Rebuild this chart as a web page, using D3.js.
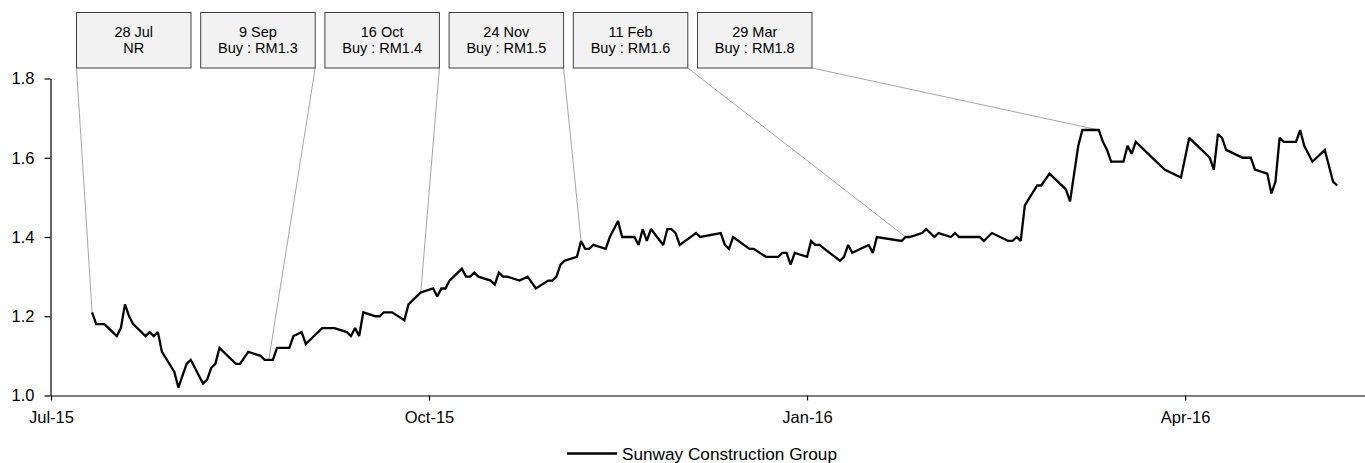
<!DOCTYPE html>
<html>
<head>
<meta charset="utf-8">
<script src="https://cdn.jsdelivr.net/npm/d3@7"></script>
<style>
  html, body { margin: 0; padding: 0; background: #fff; }
  svg { display: block; }
  text { font-family: "Liberation Sans", Arial, sans-serif; fill: #000; }
</style>
</head>
<body>
<svg id="chart" width="1365" height="463"></svg>
<script>
// ---- data ----
const dates = [
"2015-07-28","2015-07-29","2015-07-31","2015-08-03","2015-08-04","2015-08-05","2015-08-06","2015-08-07",
"2015-08-10","2015-08-11","2015-08-12","2015-08-13","2015-08-14","2015-08-17","2015-08-18","2015-08-20",
"2015-08-21","2015-08-24","2015-08-25","2015-08-26","2015-08-27","2015-08-28","2015-09-01","2015-09-02",
"2015-09-04","2015-09-07","2015-09-08","2015-09-09","2015-09-10","2015-09-11","2015-09-14","2015-09-15",
"2015-09-17","2015-09-18","2015-09-22","2015-09-25","2015-09-28","2015-09-29","2015-09-30","2015-10-01",
"2015-10-02","2015-10-05","2015-10-06","2015-10-07","2015-10-09","2015-10-12","2015-10-13","2015-10-15",
"2015-10-16","2015-10-19","2015-10-20","2015-10-21","2015-10-22","2015-10-23","2015-10-26","2015-10-27",
"2015-10-28","2015-10-29","2015-10-30","2015-11-02","2015-11-03","2015-11-04","2015-11-05","2015-11-06",
"2015-11-09","2015-11-11","2015-11-13","2015-11-16","2015-11-17","2015-11-18","2015-11-19","2015-11-20",
"2015-11-23","2015-11-24","2015-11-25","2015-11-26","2015-11-27","2015-11-30","2015-12-01","2015-12-03",
"2015-12-04","2015-12-07","2015-12-08","2015-12-09","2015-12-10","2015-12-11","2015-12-14","2015-12-15",
"2015-12-16","2015-12-17","2015-12-18","2015-12-22","2015-12-23","2015-12-28","2015-12-29","2015-12-30",
"2015-12-31","2016-01-04","2016-01-05","2016-01-08","2016-01-11","2016-01-12","2016-01-13","2016-01-14",
"2016-01-15","2016-01-18","2016-01-19","2016-01-20","2016-01-21","2016-01-26","2016-01-27","2016-01-28",
"2016-01-29","2016-02-02","2016-02-03","2016-02-04","2016-02-10","2016-02-11","2016-02-12","2016-02-15",
"2016-02-16","2016-02-18","2016-02-19","2016-02-22","2016-02-23","2016-02-24","2016-02-29","2016-03-01",
"2016-03-03","2016-03-07","2016-03-08","2016-03-09","2016-03-10","2016-03-11","2016-03-14","2016-03-15",
"2016-03-17","2016-03-21","2016-03-22","2016-03-24","2016-03-25","2016-03-28","2016-03-29","2016-03-30",
"2016-03-31","2016-04-01","2016-04-04","2016-04-05","2016-04-06","2016-04-07","2016-04-14","2016-04-18",
"2016-04-19","2016-04-20","2016-04-25","2016-04-26","2016-04-27","2016-04-28","2016-04-29","2016-05-03",
"2016-05-05","2016-05-06","2016-05-09","2016-05-10","2016-05-11","2016-05-12","2016-05-13","2016-05-16",
"2016-05-17","2016-05-18","2016-05-20","2016-05-23","2016-05-25","2016-05-26"
];
const prices = [
1.21,1.18,1.18,1.15,1.17,1.23,1.20,1.18,
1.15,1.16,1.15,1.16,1.11,1.06,1.02,1.08,
1.09,1.03,1.04,1.07,1.08,1.12,1.08,1.08,
1.11,1.10,1.09,1.09,1.09,1.12,1.12,1.15,
1.16,1.13,1.17,1.17,1.16,1.15,1.17,1.15,
1.21,1.20,1.20,1.21,1.21,1.19,1.23,1.25,
1.26,1.27,1.25,1.27,1.27,1.29,1.32,1.30,
1.30,1.31,1.30,1.29,1.28,1.31,1.30,1.30,
1.29,1.30,1.27,1.29,1.29,1.30,1.33,1.34,
1.35,1.39,1.37,1.37,1.38,1.37,1.40,1.44,
1.40,1.40,1.38,1.42,1.39,1.42,1.38,1.42,
1.42,1.41,1.38,1.41,1.40,1.41,1.38,1.37,
1.40,1.37,1.37,1.35,1.35,1.36,1.36,1.33,
1.36,1.35,1.39,1.38,1.38,1.34,1.35,1.38,
1.36,1.38,1.36,1.40,1.39,1.40,1.40,1.41,
1.42,1.40,1.41,1.40,1.41,1.40,1.40,1.39,
1.41,1.39,1.39,1.40,1.39,1.48,1.53,1.53,
1.56,1.52,1.49,1.63,1.67,1.67,1.67,1.64,
1.62,1.59,1.59,1.63,1.61,1.64,1.57,1.55,
1.60,1.65,1.60,1.57,1.66,1.65,1.62,1.60,
1.60,1.57,1.56,1.51,1.54,1.65,1.64,1.64,
1.67,1.63,1.59,1.62,1.54,1.53
];
const seriesName = "Sunway Construction Group";

const yTicks = [1.0, 1.2, 1.4, 1.6, 1.8];
const xTickDates = ["2015-07-18","2015-10-18","2016-01-18","2016-04-19"];
const xDomain = ["2015-07-18","2016-06-02"];

const noteDates  = ["2015-07-28","2015-09-09","2015-10-16","2015-11-24","2016-02-11","2016-03-29"];
const noteLine1  = ["28 Jul","9 Sep","16 Oct","24 Nov","11 Feb","29 Mar"];
const noteLine2  = ["NR","Buy : RM1.3","Buy : RM1.4","Buy : RM1.5","Buy : RM1.6","Buy : RM1.8"];

// ---- drawing ----
const parse = d3.utcParse("%Y-%m-%d");
const data = dates.map((d, i) => ({ date: parse(d), value: prices[i] }));

const svg = d3.select("#chart");

const x = d3.scaleUtc()
  .domain(xDomain.map(parse))
  .range([51, 51 + 320 * 4.109]);
const y = d3.scaleLinear().domain([1.0, 1.8]).range([395.5, 78.5]);

// annotation connectors
const boxW = 114.5, boxH = 55.5, boxTop = 12.5, boxLeft0 = 76.5, boxStep = 124.2;
const notes = noteDates.map((d, i) => {
  const dt = parse(d);
  const idx = dates.indexOf(d);
  const px = x(dt), py = y(prices[idx]);
  const left = boxLeft0 + i * boxStep;
  const right = left + boxW;
  const cx = Math.abs(px - left) < Math.abs(px - right) ? left : right;
  return { i, px, py, left, cx, l1: noteLine1[i], l2: noteLine2[i] };
});

svg.append("g").selectAll("line").data(notes).join("line")
  .attr("x1", d => d.cx).attr("y1", boxTop + boxH)
  .attr("x2", d => d.px).attr("y2", d => d.py)
  .attr("stroke", "#a6a6a6").attr("stroke-width", 1);

// axes
const yAxis = d3.axisLeft(y).tickValues(yTicks).tickFormat(d3.format(".1f"))
  .tickSize(6).tickSizeOuter(0).tickPadding(10);
const gy = svg.append("g").attr("transform", "translate(50.5,0)").call(yAxis);
gy.selectAll("text").style("font-size", "16.5px");

const xAxis = d3.axisBottom(x).tickValues(xTickDates.map(parse))
  .tickFormat(d3.utcFormat("%b-%y")).tickSize(5).tickSizeOuter(0).tickPadding(11);
const gx = svg.append("g").attr("transform", "translate(0,395.5)").call(xAxis);
gx.selectAll("text").style("font-size", "16.5px");
svg.selectAll(".domain, .tick line").attr("stroke", "#000").attr("stroke-width", 1.2);

// series line
const line = d3.line().x(d => x(d.date)).y(d => y(d.value));
svg.append("path").datum(data)
  .attr("d", line)
  .attr("fill", "none").attr("stroke", "#000")
  .attr("stroke-width", 2.3).attr("stroke-linejoin", "miter").attr("stroke-miterlimit", 2);

// annotation boxes
const gb = svg.append("g").selectAll("g").data(notes).join("g");
gb.append("rect")
  .attr("x", d => d.left).attr("y", boxTop)
  .attr("width", boxW).attr("height", boxH)
  .attr("fill", "#f2f2f2").attr("stroke", "#404040").attr("stroke-width", 1);
gb.append("text").attr("x", d => d.left + boxW / 2).attr("y", 37)
  .attr("text-anchor", "middle").style("font-size", "14.5px").text(d => d.l1);
gb.append("text").attr("x", d => d.left + boxW / 2).attr("y", 53)
  .attr("text-anchor", "middle").style("font-size", "14.5px").text(d => d.l2);

// legend
const lg = svg.append("g");
lg.append("line").attr("x1", 567).attr("x2", 617).attr("y1", 453.5).attr("y2", 453.5)
  .attr("stroke", "#000").attr("stroke-width", 2.3);
lg.append("text").attr("x", 622).attr("y", 459.5).style("font-size", "17.2px").text(seriesName);
</script>
</body>
</html>
